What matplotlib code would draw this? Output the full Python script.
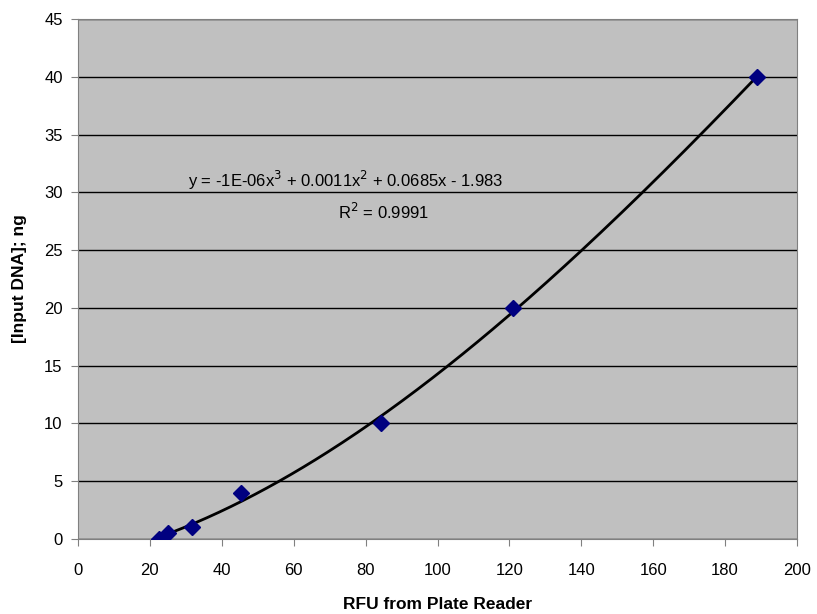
import numpy as np
import matplotlib

matplotlib.use("Agg")
import matplotlib.pyplot as plt

plt.rcParams["font.family"] = ["Liberation Sans", "DejaVu Sans"]

# standard curve: plate reader RFU vs input DNA
rfu = [22.5, 25.1, 31.6, 45.3, 84.4, 121.1, 188.9]
dna_ng = [0.0, 0.5, 1.0, 4.0, 10.0, 20.0, 40.0]

x_ticks = [0, 20, 40, 60, 80, 100, 120, 140, 160, 180, 200]
y_ticks = [0, 5, 10, 15, 20, 25, 30, 35, 40, 45]

equation_text = r"y = -1E-06x$^3$ + 0.0011x$^2$ + 0.0685x - 1.983"
r2_text = r"R$^2$ = 0.9991"

fig = plt.figure(figsize=(8.17, 6.14), dpi=100)
ax = fig.add_axes([0.0955, 0.1221, 0.88, 0.847])
ax.set_facecolor("#C0C0C0")

# cubic trendline fitted to the points
coeffs = np.polyfit(rfu, dna_ng, 3)
xs = np.linspace(min(rfu), max(rfu), 200)
ax.plot(xs, np.polyval(coeffs, xs), color="black", linewidth=2.0, zorder=3)
ax.plot(rfu, dna_ng, linestyle="none", marker="D", markersize=8,
        color="#000080", zorder=4)

ax.set_xlim(0, 200)
ax.set_ylim(0, 45)
ax.set_xticks(x_ticks)
ax.set_yticks(y_ticks)
ax.yaxis.grid(True, color="black", linewidth=1.0)
ax.set_axisbelow(True)
ax.tick_params(labelsize=12, direction="out", length=5, color="#808080")
ax.tick_params(axis="x", pad=12)
ax.tick_params(axis="y", pad=6)
for spine in ax.spines.values():
    spine.set_color("#808080")

ax.set_xlabel("RFU from Plate Reader", fontsize=12.5, fontweight="bold", labelpad=14)
ax.set_ylabel("[Input DNA]; ng", fontsize=12.5, fontweight="bold", labelpad=12)

ax.text(74.4, 31.0, equation_text, fontsize=12, ha="center", va="center")
ax.text(85.0, 28.3, r2_text, fontsize=12, ha="center", va="center")

fig.savefig("out.png", dpi=100)
